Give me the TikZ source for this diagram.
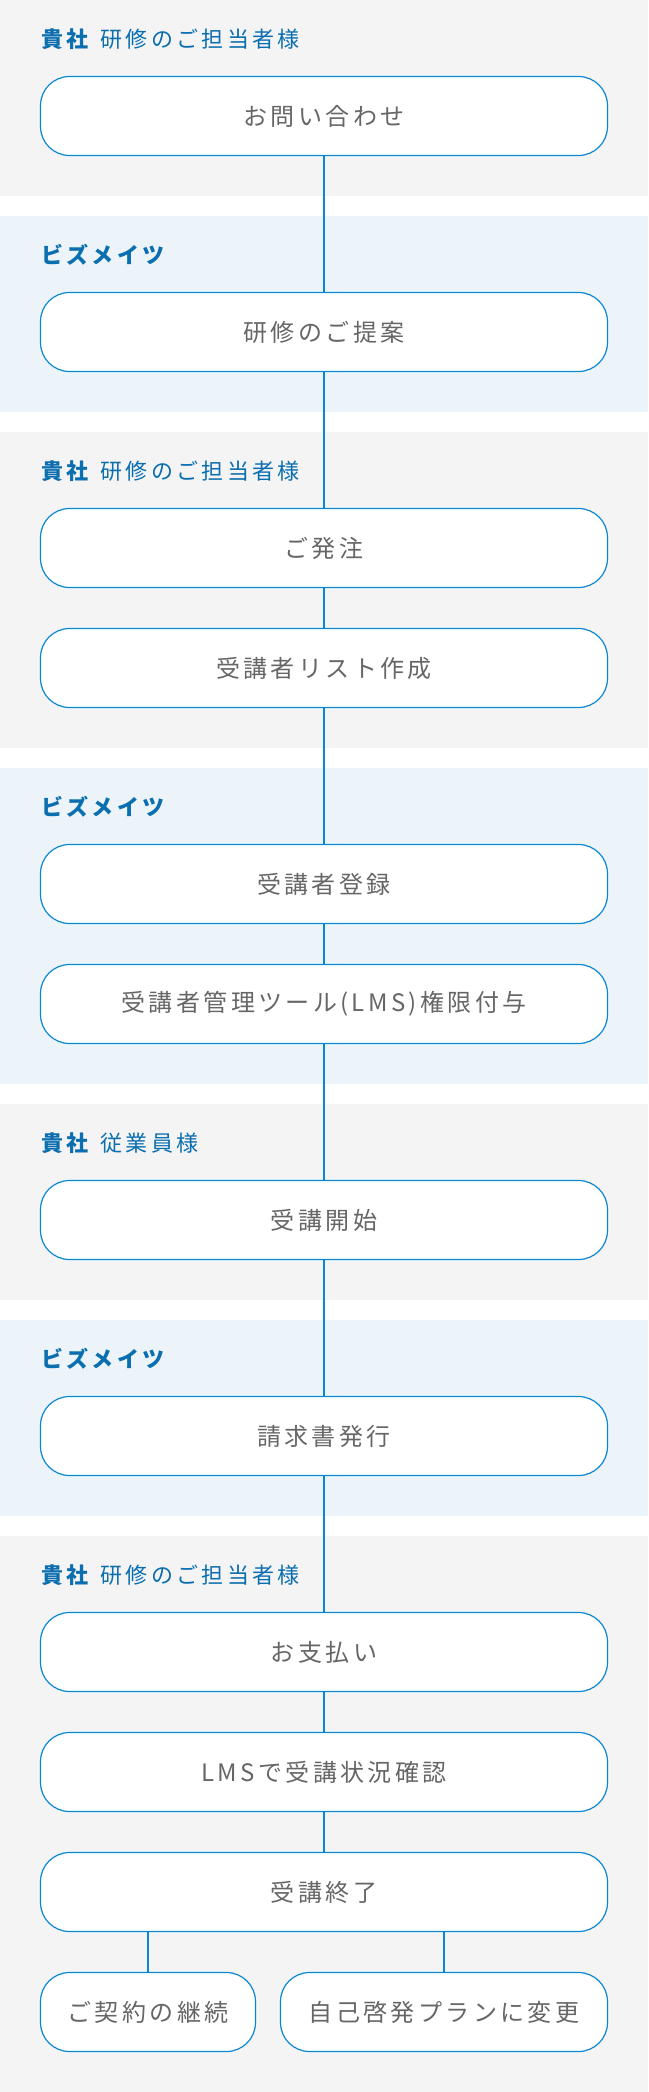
\documentclass[tikz,border=0pt]{standalone}
\usepackage{fontspec}
\newfontfamily\jpbox[LetterSpace=14]{Noto Sans CJK JP}
\newfontfamily\jplab[LetterSpace=15]{Noto Sans CJK JP}
\definecolor{graybg}{HTML}{F4F4F4}
\definecolor{bluebg}{HTML}{ECF4FA}
\definecolor{linecol}{HTML}{0A88D2}
\definecolor{labelcol}{HTML}{0B6EAF}
\definecolor{textcol}{HTML}{666666}
\tikzset{
	stepbox/.style={draw=linecol, line width=1.2pt, fill=white, rounded corners=29pt,
		minimum width=567pt, minimum height=79pt, inner sep=0pt, text=textcol,
		font=\jpbox\fontsize{24}{24}\selectfont},
	who/.style={anchor=west, inner sep=0pt, text=labelcol, font=\jplab\fontsize{22}{22}\selectfont},
	flow/.style={line width=2pt, color=linecol}
}

\begin{document}
\begin{tikzpicture}[x=1pt, y=-1pt]
		%%%%% START %%%%%
		
		\useasboundingbox (0, 0) rectangle (648, 2092);
		\fill[white] (0, 0) rectangle (648, 2092);
		
		\fill[graybg] (0, 0) rectangle (648, 196);
		\fill[bluebg] (0, 216) rectangle (648, 412);
		\fill[graybg] (0, 432) rectangle (648, 748);
		\fill[bluebg] (0, 768) rectangle (648, 1084);
		\fill[graybg] (0, 1104) rectangle (648, 1300);
		\fill[bluebg] (0, 1320) rectangle (648, 1516);
		\fill[graybg] (0, 1536) rectangle (648, 2092);
		
		\node[who] (who1) at (41, 39) {\textbf{貴社}\hspace{0.4em}研修のご担当者様};
		\node[stepbox] (ask) at (324, 116) {お問い合わせ};
		
		\node[who] (who2) at (41, 255) {\textbf{ビズメイツ}};
		\node[stepbox] (propose) at (324, 332) {研修のご提案};
		
		\node[who] (who3) at (41, 471) {\textbf{貴社}\hspace{0.4em}研修のご担当者様};
		\node[stepbox] (order) at (324, 548) {ご発注};
		\node[stepbox] (list) at (324, 668) {受講者リスト作成};
		
		\node[who] (who4) at (41, 807) {\textbf{ビズメイツ}};
		\node[stepbox] (regist) at (324, 884) {受講者登録};
		\node[stepbox] (grant) at (324, 1004) {受講者管理ツール(LMS)権限付与};
		
		\node[who] (who5) at (41, 1143) {\textbf{貴社}\hspace{0.4em}従業員様};
		\node[stepbox] (start) at (324, 1220) {受講開始};
		
		\node[who] (who6) at (41, 1359) {\textbf{ビズメイツ}};
		\node[stepbox] (invoice) at (324, 1436) {請求書発行};
		
		\node[who] (who7) at (41, 1575) {\textbf{貴社}\hspace{0.4em}研修のご担当者様};
		\node[stepbox] (pay) at (324, 1652) {お支払い};
		\node[stepbox] (check) at (324, 1772) {LMSで受講状況確認};
		\node[stepbox] (finish) at (324, 1892) {受講終了};
		
		\node[stepbox, minimum width=215pt] (renew) at (148, 2012) {ご契約の継続};
		\node[stepbox, minimum width=327pt] (change) at (444, 2012) {自己啓発プランに変更};
		
		\draw[flow] (ask) -- (propose);
		\draw[flow] (propose) -- (order);
		\draw[flow] (order) -- (list);
		\draw[flow] (list) -- (regist);
		\draw[flow] (regist) -- (grant);
		\draw[flow] (grant) -- (start);
		\draw[flow] (start) -- (invoice);
		\draw[flow] (invoice) -- (pay);
		\draw[flow] (pay) -- (check);
		\draw[flow] (check) -- (finish);
		\draw[flow] (finish.south -| renew.north) -- (renew.north);
		\draw[flow] (finish.south -| change.north) -- (change.north);
		
		%%%%% END %%%%%
	\end{tikzpicture}
\end{document}
